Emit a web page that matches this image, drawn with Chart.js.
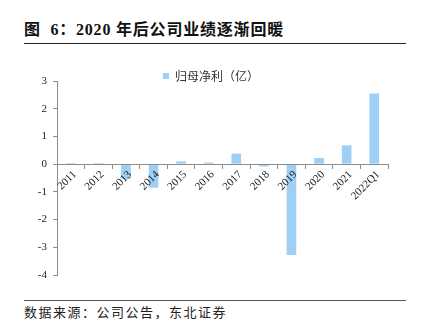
<!DOCTYPE html>
<html>
<head>
<meta charset="utf-8">
<script src="https://cdn.jsdelivr.net/npm/chart.js@4.4.1/dist/chart.umd.min.js"></script>
<style>
  body { margin: 0; background: #fff; width: 421px; height: 325px; overflow: hidden; position: relative; }
  .title { position: absolute; left: 24px; top: 18px; font: bold 16px "Liberation Serif", "Noto Sans CJK SC", serif; color: #111; white-space: nowrap; letter-spacing: 0.8px; line-height: 24px; }
  .rule1 { position: absolute; left: 24px; top: 43px; width: 382px; height: 0; border-top: 1.3px solid #222; }
  .rule2 { position: absolute; left: 24px; top: 299.5px; width: 382px; height: 0; border-top: 1px solid #555; }
  .source { position: absolute; left: 24px; top: 303px; font: 13px "Liberation Serif", "Noto Sans CJK SC", serif; color: #222; white-space: nowrap; letter-spacing: 1.5px; line-height: 20px; }
  #box { position: absolute; left: 0; top: 50px; width: 421px; height: 240px; }
</style>
</head>
<body>
<div class="title">图&nbsp;&nbsp;6：2020 年后公司业绩逐渐回暖</div>
<div class="rule1"></div>
<div id="box"><canvas id="chart"></canvas></div>
<div class="rule2"></div>
<div class="source">数据来源：公司公告，东北证券</div>
<script>
// data
const years = ["2011", "2012", "2013", "2014", "2015", "2016", "2017", "2018", "2019", "2020", "2021", "2022Q1"];
const netProfit = [0.04, 0.04, -0.54, -0.85, 0.10, 0.06, 0.38, -0.08, -3.28, 0.22, 0.68, 2.55];
const seriesName = "归母净利（亿）";
const yTicks = [3, 2, 1, 0, -1, -2, -3, -4];

const barColor = "rgb(158, 207, 245)";
const axisColor = "#8c8c8c";
const tickFont = { family: "'Liberation Serif', serif", size: 11 };

// the legend overlaps the top of the plot in the original, so pull it down over it
const legendNudge = {
    id: "legendNudge",
    afterLayout(chart) {
        const lg = chart.legend;
        const h = lg.bottom - lg.top;
        lg.top = 20;
        lg.bottom = 20 + h;
        lg.left += 17;
        lg.right += 17;
    }
};

const ctx = document.getElementById("chart").getContext("2d");
new Chart(ctx, {
    type: "bar",
    data: {
        labels: years,
        datasets: [{
            label: seriesName,
            data: netProfit,
            backgroundColor: barColor,
            borderWidth: 0,
            barPercentage: 0.35,
            categoryPercentage: 1
        }]
    },
    options: {
        responsive: true,
        maintainAspectRatio: false,
        animation: false,
        layout: { padding: { top: 9, right: 33, bottom: 15, left: 0 } },
        plugins: {
            tooltip: { enabled: false },
            legend: {
                position: "top",
                align: "center",
                labels: {
                    boxWidth: 6, boxHeight: 6, padding: 0,
                    color: "#333",
                    font: { family: "'Noto Sans CJK SC', serif", size: 12 }
                }
            }
        },
        scales: {
            x: {
                position: { y: 0 },
                grid: { drawOnChartArea: false, drawTicks: true, tickLength: 4, color: axisColor, offset: true, z: 1 },
                border: { display: true, color: axisColor, z: 1 },
                ticks: {
                    autoSkip: false, minRotation: 45, maxRotation: 45,
                    color: "#222", font: tickFont, padding: 0, labelOffset: 4, z: 1
                }
            },
            y: {
                min: -4, max: 3,
                afterFit(scale) { scale.width = 57; },
                afterBuildTicks(scale) { scale.ticks = yTicks.map(v => ({ value: v })); },
                grid: { drawOnChartArea: false, drawTicks: true, tickLength: 4, color: axisColor },
                border: { display: true, color: axisColor },
                ticks: { color: "#222", font: tickFont, padding: 6 }
            }
        }
    },
    plugins: [legendNudge]
});
</script>
</body>
</html>
